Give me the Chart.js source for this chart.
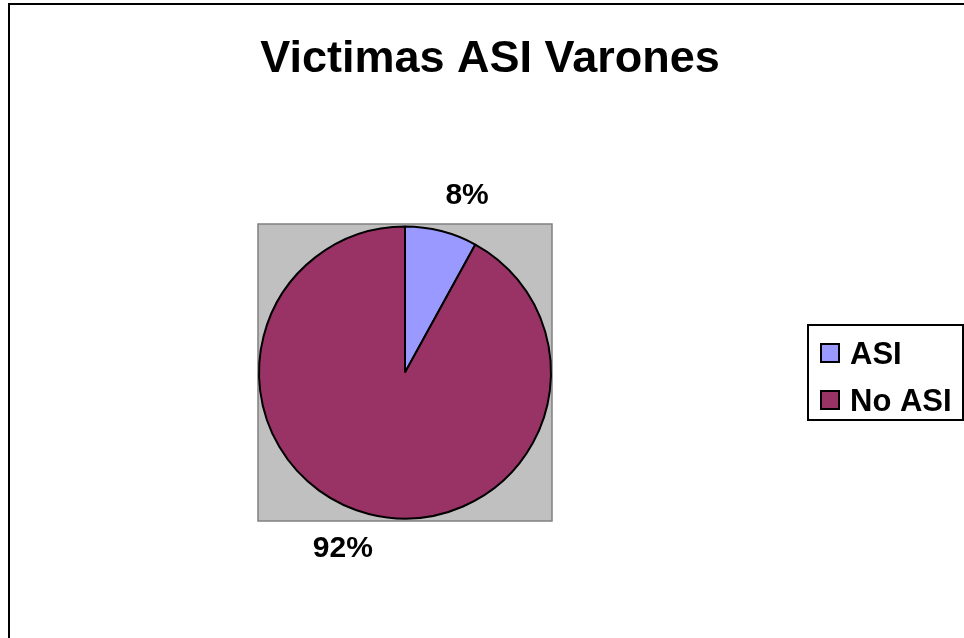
<!DOCTYPE html>
<html>
<head>
<meta charset="utf-8">
<script src="https://cdn.jsdelivr.net/npm/chart.js@4.4.0/dist/chart.umd.min.js"></script>
<style>
  html, body { margin: 0; padding: 0; background: #fff; }
  #wrap { width: 964px; height: 638px; position: relative; }
</style>
</head>
<body>
<div id="wrap"><canvas id="myChart" width="964" height="638"></canvas></div>
<script>
const title = "Victimas ASI Varones";
const labels = ["ASI", "No ASI"];
const values = [8, 92];
const colors = ["#9999FF", "#993366"];

const font = "'Liberation Sans', Arial, sans-serif";

// frame, grey plot area, title, % labels and the boxed legend
const decor = {
  id: "decor",
  beforeDraw(chart) {
    const ctx = chart.ctx;
    const a = chart.chartArea;
    ctx.save();
    ctx.fillStyle = "#fff";
    ctx.fillRect(0, 0, chart.width, chart.height);
    ctx.strokeStyle = "#000";
    ctx.lineWidth = 2;
    ctx.strokeRect(9, 4, chart.width + 20, chart.height + 20);

    ctx.fillStyle = "#C0C0C0";
    ctx.fillRect(a.left, a.top, a.right - a.left, a.bottom - a.top);
    ctx.strokeStyle = "#808080";
    ctx.lineWidth = 1.5;
    ctx.strokeRect(a.left, a.top, a.right - a.left, a.bottom - a.top);

    ctx.fillStyle = "#000";
    ctx.font = "bold 45px " + font;
    ctx.textAlign = "center";
    ctx.textBaseline = "alphabetic";
    ctx.fillText(title, 490, 72);
    ctx.restore();
  },
  afterDraw(chart) {
    const ctx = chart.ctx;
    const arcs = chart.getDatasetMeta(0).data;
    const total = values.reduce((s, v) => s + v, 0);
    ctx.save();
    ctx.fillStyle = "#000";
    ctx.font = "bold 30px " + font;
    ctx.textAlign = "center";
    ctx.textBaseline = "middle";
    arcs.forEach((arc, i) => {
      const mid = (arc.startAngle + arc.endAngle) / 2 + 5 * Math.PI / 180;
      const r = arc.outerRadius + 41;
      const x = arc.x + Math.cos(mid) * r;
      const y = arc.y + Math.sin(mid) * r;
      ctx.fillText(Math.round(values[i] / total * 100) + "%", x, y);
    });

    // legend
    const lx = 808, ly = 325, lw = 155, rowH = 47;
    const lh = 95;
    ctx.strokeStyle = "#000";
    ctx.lineWidth = 2;
    ctx.strokeRect(lx, ly, lw, lh);
    ctx.textAlign = "left";
    ctx.textBaseline = "alphabetic";
    ctx.font = "bold 31px " + font;
    labels.forEach((l, i) => {
      const cy = ly + 28 + i * rowH;
      ctx.fillStyle = colors[i];
      ctx.fillRect(lx + 13, cy - 9, 18, 18);
      ctx.lineWidth = 2;
      ctx.strokeRect(lx + 13, cy - 9, 18, 18);
      ctx.fillStyle = "#000";
      ctx.fillText(l, lx + 42, cy + 11);
    });
    ctx.restore();
  }
};

const ctx = document.getElementById("myChart").getContext("2d");
const myChart = new Chart(ctx, {
  type: "pie",
  data: {
    labels,
    datasets: [{
      data: values,
      backgroundColor: colors,
      borderColor: "#000",
      borderWidth: 2
    }]
  },
  options: {
    responsive: false,
    animation: false,
    layout: { padding: { left: 258, top: 224, right: 412, bottom: 117 } },
    plugins: {
      legend: { display: false },
      tooltip: { enabled: false },
      title: { display: false }
    }
  },
  plugins: [decor]
});
</script>
</body>
</html>
